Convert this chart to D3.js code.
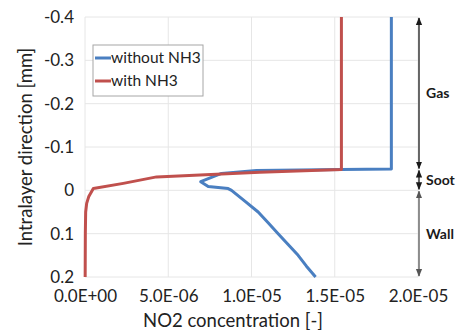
<!DOCTYPE html>
<html>
<head>
<meta charset="utf-8">
<script src="https://cdn.jsdelivr.net/npm/d3@7"></script>
<style>
  html, body { margin: 0; padding: 0; background: #fff; }
  svg { display: block; font-family: Lato, "Open Sans", sans-serif; }
</style>
</head>
<body>
<svg id="chart" width="470" height="330"></svg>
<script>
// NO2 concentration profiles across the intralayer direction (mm)
const xTicks = [0, 5e-6, 1e-5, 1.5e-5, 2e-5];
const xTickLabels = ["0.0E+00", "5.0E-06", "1.0E-05", "1.5E-05", "2.0E-05"];
const yTicks = [-0.4, -0.3, -0.2, -0.1, 0, 0.1, 0.2];
const yTickLabels = ["-0.4", "-0.3", "-0.2", "-0.1", "0", "0.1", "0.2"];

const seriesNames = ["without NH3", "with NH3"];
const seriesColors = ["#4a7fc1", "#c0504d"];

// [concentration, position]
const withoutNH3 = [
  [1.84e-5, -0.4], [1.84e-5, -0.049], [1.54e-5, -0.048], [1.03e-5, -0.046],
  [8.2e-6, -0.039], [6.95e-6, -0.020], [7.4e-6, -0.009], [8.6e-6, -0.004],
  [8.8e-6, 0.0], [9.6e-6, 0.025], [1.04e-5, 0.05], [1.10e-5, 0.075],
  [1.16e-5, 0.1], [1.22e-5, 0.125], [1.28e-5, 0.15], [1.33e-5, 0.175],
  [1.385e-5, 0.2]
];
const withNH3 = [
  [1.54e-5, -0.4], [1.54e-5, -0.048], [1.05e-5, -0.042], [4.3e-6, -0.031],
  [2.3e-6, -0.016], [5e-7, -0.004], [2.2e-7, 0.015], [1e-7, 0.03],
  [4e-8, 0.05], [2e-8, 0.1], [1e-8, 0.2]
];

// layer annotations on the right: [label, top, bottom, colour]
const zones = [
  ["Gas", -0.4, -0.048, "#1a1a1a"],
  ["Soot", -0.048, 0.0, "#1a1a1a"],
  ["Wall", 0.0, 0.2, "#555"]
];

const svg = d3.select("#chart");
const m = { left: 85, top: 17, right: 418, bottom: 277 };

const x = d3.scaleLinear().domain([0, 2e-5]).range([m.left, m.right]);
const y = d3.scaleLinear().domain([-0.4, 0.2]).range([m.top, m.bottom]);

// gridlines
const grid = svg.append("g").attr("stroke", "#e6e6e6").attr("stroke-width", 1);
grid.selectAll("line.v").data(xTicks).join("line")
  .attr("x1", d => x(d)).attr("x2", d => x(d))
  .attr("y1", m.top).attr("y2", m.bottom);
grid.selectAll("line.h").data(yTicks).join("line")
  .attr("x1", m.left).attr("x2", m.right)
  .attr("y1", d => y(d)).attr("y2", d => y(d));

// axes (labels only)
const xAxis = d3.axisBottom(x).tickValues(xTicks)
  .tickFormat((d, i) => xTickLabels[i]).tickSize(0).tickPadding(16);
const yAxis = d3.axisLeft(y).tickValues(yTicks)
  .tickFormat((d, i) => yTickLabels[i]).tickSize(0).tickPadding(11);

const gx = svg.append("g").attr("transform", `translate(0,${m.bottom})`).call(xAxis);
const gy = svg.append("g").attr("transform", `translate(${m.left},0)`).call(yAxis);
[gx, gy].forEach(g => {
  g.select(".domain").remove();
  g.selectAll("text").attr("font-size", 17).attr("fill", "#222")
    .attr("font-family", "Lato, 'Open Sans', sans-serif");
});
gx.selectAll("text").attr("dy", "0.5em");

// series lines
const line = d3.line().x(d => x(d[0])).y(d => y(d[1]));
[withoutNH3, withNH3].forEach((s, i) => {
  svg.append("path").datum(s)
    .attr("fill", "none")
    .attr("stroke", seriesColors[i])
    .attr("stroke-width", 3)
    .attr("stroke-linejoin", "round")
    .attr("d", line);
});

// legend
const lg = svg.append("g").attr("transform", "translate(93,45)");
lg.append("rect").attr("width", 110).attr("height", 51)
  .attr("fill", "#fff").attr("stroke", "#a6a6a6").attr("stroke-width", 1);
seriesNames.forEach((name, i) => {
  const yy = 13 + i * 23;
  lg.append("line").attr("x1", 2).attr("x2", 18).attr("y1", yy).attr("y2", yy)
    .attr("stroke", seriesColors[i]).attr("stroke-width", 3);
  lg.append("text").attr("x", 18).attr("y", yy).attr("dy", "0.35em")
    .attr("font-size", 15.5).attr("fill", "#222").text(name);
});

// layer arrows
const defs = svg.append("defs");
["#1a1a1a", "#555"].forEach((c, i) => {
  defs.append("marker").attr("id", "ah" + i)
    .attr("viewBox", "0 0 10 10").attr("refX", 9).attr("refY", 5)
    .attr("markerWidth", 6).attr("markerHeight", 6).attr("orient", "auto-start-reverse")
    .append("path").attr("d", "M0,1 L10,5 L0,9 Z").attr("fill", c);
});
const ax = 419;
zones.forEach(z => {
  const mk = z[3] === "#555" ? "url(#ah1)" : "url(#ah0)";
  svg.append("line").attr("x1", ax).attr("x2", ax)
    .attr("y1", y(z[1]) + 1).attr("y2", y(z[2]) - 1)
    .attr("stroke", z[3]).attr("stroke-width", 1.3)
    .attr("marker-start", mk).attr("marker-end", mk);
  svg.append("text").attr("x", ax + 7).attr("y", (y(z[1]) + y(z[2])) / 2)
    .attr("dy", "0.35em").attr("font-size", 14).attr("font-weight", "bold")
    .attr("fill", "#1a1a1a").text(z[0]);
});

// axis titles
svg.append("text").attr("x", 233).attr("y", 327)
  .attr("text-anchor", "middle").attr("font-size", 18.5).attr("fill", "#222")
  .text("NO2 concentration [-]");
svg.append("text")
  .attr("transform", `translate(32,${(m.top + m.bottom) / 2}) rotate(-90)`)
  .attr("text-anchor", "middle").attr("font-size", 18.5).attr("fill", "#222")
  .text("Intralayer direction [mm]");
</script>
</body>
</html>
